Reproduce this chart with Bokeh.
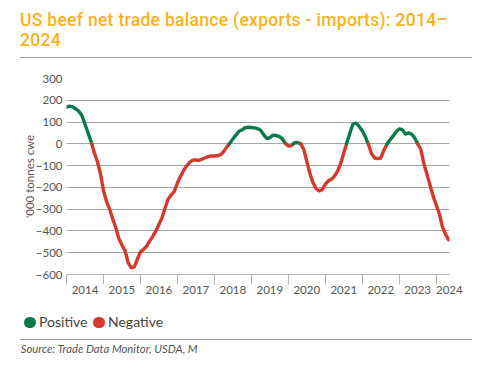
from bokeh.plotting import figure
from bokeh.models import FixedTicker, ColumnDataSource, Range1d, Div
from bokeh.layouts import column
from bokeh.embed import file_html
from bokeh.resources import INLINE

# ---------------- data ----------------
start_year = 2014
# monthly net trade balance, '000 tonnes cwe, Jan 2014 - May 2024
values = [
    168, 173, 170, 160, 150, 130, 90, 50, 10, -40, -80, -135,          # 2014
    -215, -265, -300, -345, -385, -435, -465, -490, -545, -569, -565, -530,  # 2015
    -496, -485, -470, -447, -425, -400, -370, -340, -295, -253, -235, -218,  # 2016
    -180, -150, -122, -102, -84, -75, -74, -76, -70, -64, -59, -56,    # 2017
    -56, -55, -50, -36, -15, 3, 22, 40, 58, 64, 74, 76,                # 2018
    75, 73, 70, 62, 42, 25, 28, 40, 38, 34, 24, 3,                     # 2019
    -10, -8, 5, 6, 1, -25, -80, -135, -178, -205, -216, -210,          # 2020
    -186, -170, -163, -148, -125, -90, -42, 5, 50, 92, 95, 80,         # 2021
    60, 33, -3, -45, -65, -68, -65, -30, -2, 18, 35, 55,               # 2022
    68, 65, 45, 50, 45, 28, 0, -25, -90, -140, -190, -240,             # 2023
    -280, -320, -380, -415, -440,                                      # 2024
]
year_labels = [str(y) for y in range(2014, 2025)]
y_ticks = [-600, -500, -400, -300, -200, -100, 0, 100, 200, 300]
series_names = ["Positive", "Negative"]
series_colors = ["#0B7A4B", "#D33A2B"]
title_line1 = "US beef net trade balance (exports - imports): 2014\u2013"
title_line2 = "2024"
y_label = "'000 tonnes cwe"
source_text = "Source: Trade Data Monitor, USDA, M"

FONT = "Lato"
TITLE_FONT = "Roboto"
TITLE_COLOR = "#F7B21E"
RULE = "1.5px solid #9a9a9a"

# ---------------- build sign-coloured runs ----------------
xs = [start_year + i / 12 for i in range(len(values))]
runs_x, runs_y, runs_c = [], [], []
cur_x, cur_y = [xs[0]], [values[0]]
cur_pos = values[0] >= 0
for i in range(1, len(values)):
    x0, y0, x1, y1 = xs[i - 1], values[i - 1], xs[i], values[i]
    pos = y1 >= 0
    if pos != cur_pos:
        xc = x0 + (0 - y0) / (y1 - y0) * (x1 - x0)
        cur_x.append(xc); cur_y.append(0)
        runs_x.append(cur_x); runs_y.append(cur_y)
        runs_c.append(series_colors[0] if cur_pos else series_colors[1])
        cur_x, cur_y = [xc], [0]
        cur_pos = pos
    cur_x.append(x1); cur_y.append(y1)
runs_x.append(cur_x); runs_y.append(cur_y)
runs_c.append(series_colors[0] if cur_pos else series_colors[1])

x_end = start_year + 10.36

# ---------------- title block (with rule as bottom border) ----------------
title_html = (
    f'<div style="position:relative;margin-left:20px;width:452px;height:57.8px;'
    f'box-sizing:border-box;border-bottom:{RULE};">'
    f'<div style="position:absolute;left:0px;top:9.7px;width:470px;font-family:{TITLE_FONT};'
    f'font-size:17.5px;font-weight:500;letter-spacing:0.3px;line-height:20.7px;'
    f'color:{TITLE_COLOR};white-space:nowrap;">{title_line1}<br>{title_line2}</div></div>'
)
title_div = Div(text=title_html, width=481, height=58, margin=0)

# ---------------- chart ----------------
p = figure(width=481, height=242,
           x_range=Range1d(start_year, x_end), y_range=Range1d(y_ticks[0], y_ticks[-1]),
           output_backend="svg", toolbar_location=None, margin=0,
           min_border_left=66, min_border_right=32, min_border_top=20, min_border_bottom=26)
p.outline_line_color = None
p.background_fill_color = "white"
p.border_fill_color = "white"

p.xgrid.visible = False
p.ygrid.ticker = FixedTicker(ticks=y_ticks)
p.ygrid.grid_line_color = "#a6a6a6"
p.ygrid.grid_line_width = 1

p.yaxis.ticker = FixedTicker(ticks=y_ticks)
p.yaxis.axis_line_color = None
p.yaxis.major_tick_line_color = None
p.yaxis.major_tick_out = 0
p.yaxis.major_tick_in = 0
p.yaxis.minor_tick_line_color = None
p.yaxis.minor_tick_out = 0
p.yaxis.minor_tick_in = 0
p.yaxis.major_label_standoff = 4
p.yaxis.major_label_text_font = FONT
p.yaxis.major_label_text_font_size = "11.5px"
p.yaxis.major_label_text_color = "#555555"
p.yaxis.axis_label = y_label
p.yaxis.axis_label_text_font = FONT
p.yaxis.axis_label_text_font_style = "normal"
p.yaxis.axis_label_text_font_size = "11.5px"
p.yaxis.axis_label_text_color = "#555555"
p.yaxis.axis_label_standoff = -3

band_centres = [start_year + k + 0.5 for k in range(len(year_labels) - 1)] + [x_end - 0.005]
overrides = {c: lab for c, lab in zip(band_centres, year_labels)}
p.xaxis.ticker = FixedTicker(ticks=band_centres,
                             minor_ticks=[start_year + k for k in range(len(year_labels))])
p.xaxis.major_label_overrides = overrides
p.xaxis.major_tick_line_color = None
p.xaxis.major_tick_out = 0
p.xaxis.major_tick_in = 0
p.xaxis.minor_tick_out = 10
p.xaxis.minor_tick_in = 0
p.xaxis.minor_tick_line_color = "#b5b5b5"
p.xaxis.axis_line_color = "#b5b5b5"
p.xaxis.major_label_standoff = 1
p.xaxis.major_label_text_font = FONT
p.xaxis.major_label_text_font_size = "11.5px"
p.xaxis.major_label_text_color = "#555555"

p.multi_line(xs="xs", ys="ys", line_color="color", line_width=3.4,
             line_join="round", line_cap="round",
             source=ColumnDataSource(dict(xs=runs_x, ys=runs_y, color=runs_c)))


# ---------------- footer: legend (with rule as bottom border), source ----------------
def dot(left, color):
    return (f'<div style="position:absolute;left:{left}px;top:17px;width:11.3px;height:11.3px;'
            f'border-radius:50%;background:{color};"></div>')


def legend_text(left, txt):
    return (f'<div style="position:absolute;left:{left}px;top:12px;font-family:{FONT};'
            f'font-size:14px;line-height:20px;color:#444444;white-space:nowrap;">{txt}</div>')


legend_html = (
    f'<div style="position:relative;margin-left:20px;width:452px;height:39.8px;'
    f'box-sizing:border-box;border-bottom:{RULE};">'
    + dot(4.35, series_colors[0]) + legend_text(19, series_names[0])
    + dot(73.35, series_colors[1]) + legend_text(88, series_names[1])
    + '</div>'
)
legend_div = Div(text=legend_html, width=481, height=40, margin=0)

source_html = (
    f'<div style="position:relative;width:481px;height:30px;">'
    f'<div style="position:absolute;left:20.7px;top:2px;font-family:{FONT};font-size:11.3px;'
    f'line-height:13px;font-style:italic;color:#555555;white-space:nowrap;">{source_text}</div>'
    '</div>'
)
source_div = Div(text=source_html, width=481, height=30, margin=0)

layout = column(title_div, p, legend_div, source_div, spacing=0)
open("out.html", "w").write(file_html(layout, INLINE))
